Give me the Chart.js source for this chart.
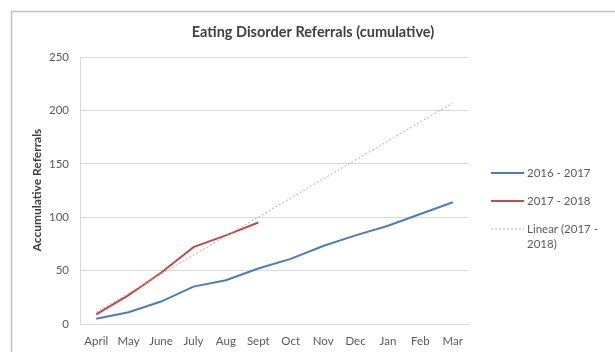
<!DOCTYPE html>
<html>
<head>
<meta charset="utf-8">
<script src="https://cdn.jsdelivr.net/npm/chart.js@4/dist/chart.umd.min.js"></script>
<style>
  html, body { margin: 0; padding: 0; background: #fff; }
  #wrap { width: 615px; height: 352px; position: relative; }
</style>
</head>
<body>
<div id="wrap"><canvas id="c" width="615" height="352"></canvas></div>
<script>
// Months of the reporting year
const months = ['April', 'May', 'June', 'July', 'Aug', 'Sept', 'Oct', 'Nov', 'Dec', 'Jan', 'Feb', 'Mar'];
// Cumulative referrals per year
const referrals2016 = [5, 11, 21, 35, 41, 52, 61, 73, 83, 92, 103, 114];
const referrals2017 = [9, 27, 48, 72, 83, 95, null, null, null, null, null, null];
// Linear trend for 2017 - 2018, start and end values
const trend2017 = [11, null, null, null, null, null, null, null, null, null, null, 207];
const yTicks = [0, 50, 100, 150, 200, 250];

const FONT = 'Lato, "Liberation Sans", sans-serif';
const TEXT = '#595959';

const frameAndLegend = {
  id: 'frameAndLegend',
  afterDraw(chart) {
    const ctx = chart.ctx;
    ctx.save();
    // outer chart frame
    ctx.strokeStyle = '#bfbfbf';
    ctx.lineWidth = 1.5;
    ctx.strokeRect(11.5, 11.5, 700, 400);

    // title
    ctx.fillStyle = '#404040';
    ctx.font = 'bold 14.5px ' + FONT;
    ctx.textAlign = 'center';
    ctx.textBaseline = 'middle';
    ctx.fillText('Eating Disorder Referrals (cumulative)', 313, 32);

    // y axis title
    ctx.save();
    ctx.translate(37, 190);
    ctx.rotate(-Math.PI / 2);
    ctx.font = 'bold 12px ' + FONT;
    ctx.fillStyle = '#404040';
    ctx.fillText('Accumulative Referrals', 0, 0);
    ctx.restore();

    // legend
    const items = [
      { ds: chart.data.datasets[0], y: 173, lines: [chart.data.datasets[0].label] },
      { ds: chart.data.datasets[1], y: 201, lines: [chart.data.datasets[1].label] },
      { ds: chart.data.datasets[2], y: 229, lines: ['Linear (2017 -', '2018)'] }
    ];
    ctx.font = '11.5px ' + FONT;
    ctx.textAlign = 'left';
    ctx.fillStyle = TEXT;
    items.forEach(it => {
      ctx.beginPath();
      ctx.strokeStyle = it.ds.borderColor;
      ctx.lineWidth = it.ds.borderWidth;
      ctx.setLineDash(it.ds.borderDash || []);
      ctx.moveTo(491, it.y);
      ctx.lineTo(524, it.y);
      ctx.stroke();
      ctx.setLineDash([]);
      it.lines.forEach((t, i) => ctx.fillText(t, 527, it.y + i * 15));
    });
    ctx.restore();
  }
};

new Chart(document.getElementById('c'), {
  type: 'line',
  data: {
    labels: months,
    datasets: [
      {
        label: '2016 - 2017',
        data: referrals2016,
        borderColor: '#4a7ebb',
        borderWidth: 2,
        pointRadius: 0,
        tension: 0,
        order: 3
      },
      {
        label: '2017 - 2018',
        data: referrals2017,
        borderColor: '#be4b48',
        borderWidth: 2,
        pointRadius: 0,
        tension: 0,
        order: 2
      },
      {
        label: 'Linear (2017 - 2018)',
        data: trend2017,
        borderColor: '#b0b0b0',
        borderWidth: 1,
        borderDash: [2, 2],
        pointRadius: 0,
        spanGaps: true,
        order: 1
      }
    ]
  },
  options: {
    responsive: false,
    animation: false,
    layout: { padding: { top: 57, right: 146, left: 12, bottom: 0 } },
    plugins: {
      legend: { display: false },
      title: { display: false },
      tooltip: { enabled: false }
    },
    scales: {
      x: {
        offset: true,
        grid: { display: false, drawTicks: false },
        border: { color: '#d9d9d9' },
        ticks: { color: TEXT, font: { family: FONT, size: 11.5 }, padding: 10, maxRotation: 0, autoSkip: false },
        afterFit(scale) { scale.height = 28; }
      },
      y: {
        min: 0,
        max: 250,
        afterBuildTicks(scale) { scale.ticks = yTicks.map(v => ({ value: v })); },
        grid: { color: '#d9d9d9', drawTicks: false },
        border: { color: '#d9d9d9' },
        ticks: { color: TEXT, font: { family: FONT, size: 11.5 }, padding: 11 },
        afterFit(scale) { scale.width = 68; }
      }
    }
  },
  plugins: [frameAndLegend]
});
</script>
</body>
</html>
